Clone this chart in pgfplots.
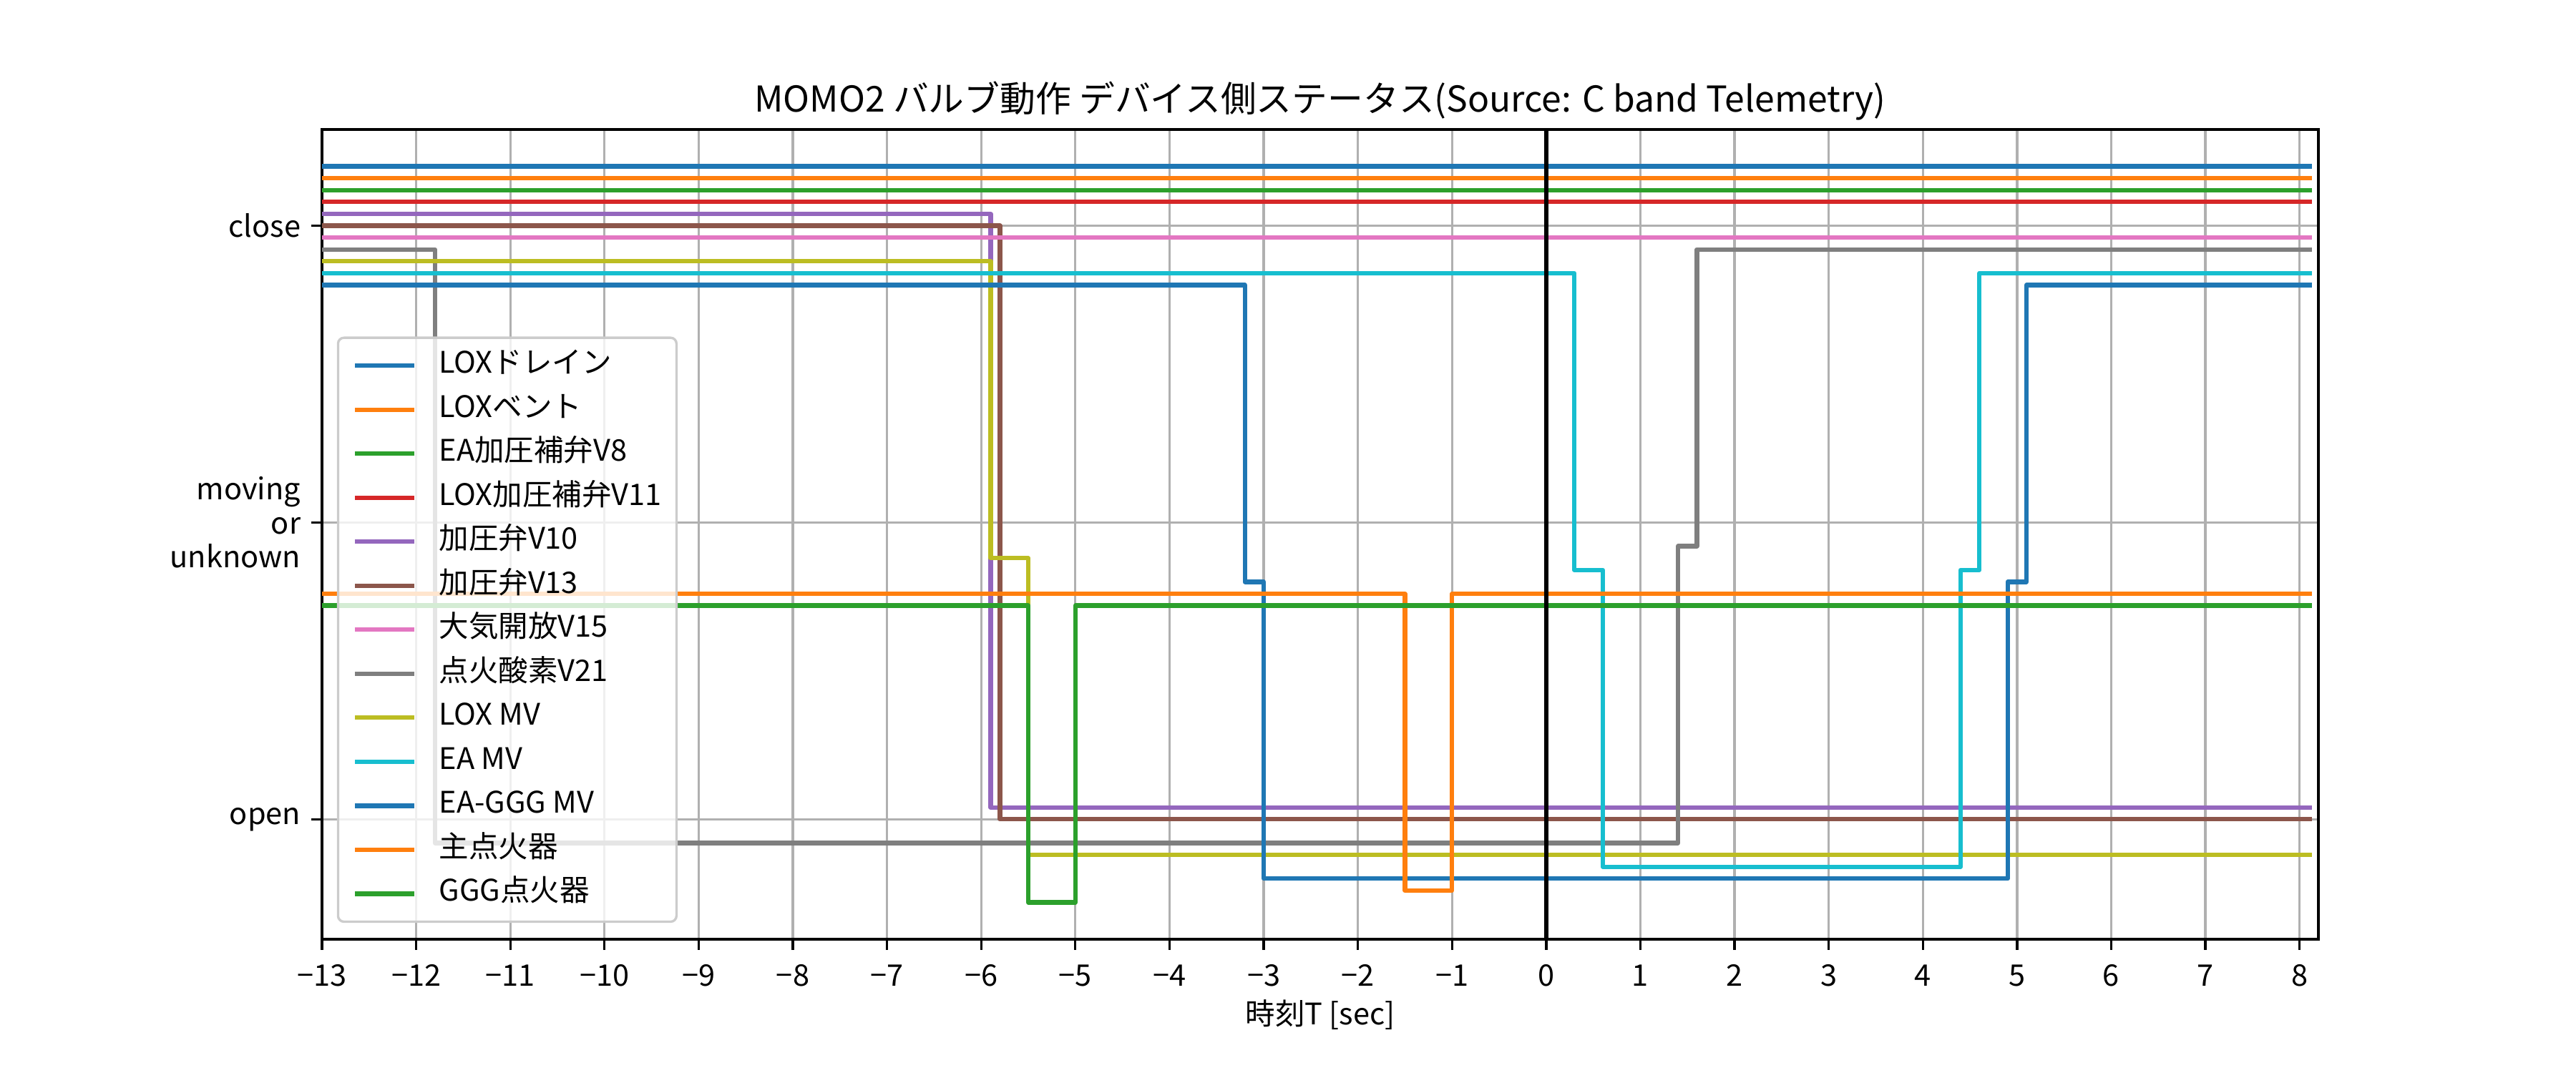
\documentclass[border=0pt]{standalone}
\usepackage{fontspec}
\setmainfont{Noto Sans CJK JP}
\usepackage{pgfplots}
\pgfplotsset{compat=1.18}
\definecolor{C0}{HTML}{1F77B4}
\definecolor{C1}{HTML}{FF7F0E}
\definecolor{C2}{HTML}{2CA02C}
\definecolor{C3}{HTML}{D62728}
\definecolor{C4}{HTML}{9467BD}
\definecolor{C5}{HTML}{8C564B}
\definecolor{C6}{HTML}{E377C2}
\definecolor{C7}{HTML}{7F7F7F}
\definecolor{C8}{HTML}{BCBD22}
\definecolor{C9}{HTML}{17BECF}
\definecolor{gridc}{HTML}{B0B0B0}
\definecolor{legc}{HTML}{CCCCCC}
\begin{document}
\begin{tikzpicture}
\begin{axis}[
  scale only axis, width=9.3in, height=3.7733in,
  xmin=-13, xmax=8.2, ymin=-0.404, ymax=2.324,
  xtick={-13,-12,-11,-10,-9,-8,-7,-6,-5,-4,-3,-2,-1,0,1,2,3,4,5,6,7,8},
  xticklabels={−13,−12,−11,−10,−9,−8,−7,−6,−5,−4,−3,−2,−1,0,1,2,3,4,5,6,7,8},
  ytick={0,1,2},
  yticklabels={open,{moving\\or\\unknown},close},
  xtick pos=bottom, ytick pos=left,
  tick align=outside, major tick length=3.5pt,
  tick style={black, line width=0.8pt},
  axis line style={line width=0.8pt},
  grid=major, major grid style={color=gridc, line width=0.8pt},
  xticklabel style={font=\fontsize{10}{12}\selectfont, anchor=base, yshift=-12.3pt},
  yticklabel style={font=\fontsize{10}{11.5}\selectfont, align=right, anchor=east, inner xsep=0pt, xshift=-3.5pt},
  every axis title/.style={at={(0.5,1)}, anchor=base, yshift=6pt, font=\fontsize{12}{14}\selectfont},
  title={MOMO2 バルブ動作 デバイス側ステータス(Source: C band Telemetry)},
  every axis x label/.style={at={(0.5,0)}, anchor=base, yshift=-28.9pt, font=\fontsize{10}{12}\selectfont},
  xlabel={時刻T [sec]},
  legend cell align=left,
  legend image code/.code={\draw[#1] (0pt,0pt) -- (20pt,0pt);},
  legend style={at={(0,0)}, anchor=south west, xshift=5pt, yshift=5.5pt,
    draw=legc, fill=white, fill opacity=0.8, draw opacity=1, text opacity=1,
    rounded corners=2pt, line width=0.8pt,
    font=\fontsize{10}{12}\selectfont,
    inner xsep=5pt, inner ysep=2pt, row sep=0pt, column sep=7.5pt,
    nodes={inner xsep=0pt, inner ysep=2.41pt, text height=7.5pt, text depth=2.5pt}},
  every axis plot/.append style={line width=1.5pt, const plot, line join=round},
]
\addplot[C0] coordinates {(-13,2.2) (8.13,2.2)};
\addlegendentry{LOXドレイン}
\addplot[C1] coordinates {(-13,2.16) (8.13,2.16)};
\addlegendentry{LOXベント}
\addplot[C2] coordinates {(-13,2.12) (8.13,2.12)};
\addlegendentry{EA加圧補弁V8}
\addplot[C3] coordinates {(-13,2.08) (8.13,2.08)};
\addlegendentry{LOX加圧補弁V11}
\addplot[C4] coordinates {(-13,2.04) (-5.9,0.04) (8.13,0.04)};
\addlegendentry{加圧弁V10}
\addplot[C5] coordinates {(-13,2.0) (-5.8,0.0) (8.13,0.0)};
\addlegendentry{加圧弁V13}
\addplot[C6] coordinates {(-13,1.96) (8.13,1.96)};
\addlegendentry{大気開放V15}
\addplot[C7] coordinates {(-13,1.92) (-11.8,-0.08) (1.4,0.92) (1.6,1.92) (8.13,1.92)};
\addlegendentry{点火酸素V21}
\addplot[C8] coordinates {(-13,1.88) (-5.9,0.88) (-5.5,-0.12) (8.13,-0.12)};
\addlegendentry{LOX MV}
\addplot[C9] coordinates {(-13,1.84) (0.3,0.84) (0.6,-0.16) (4.4,0.84) (4.6,1.84) (8.13,1.84)};
\addlegendentry{EA MV}
\addplot[C0] coordinates {(-13,1.8) (-3.2,0.8) (-3.0,-0.2) (4.9,0.8) (5.1,1.8) (8.13,1.8)};
\addlegendentry{EA-GGG MV}
\addplot[C1] coordinates {(-13,0.76) (-1.5,-0.24) (-1.0,0.76) (8.13,0.76)};
\addlegendentry{主点火器}
\addplot[C2] coordinates {(-13,0.72) (-5.5,-0.28) (-5.0,0.72) (8.13,0.72)};
\addlegendentry{GGG点火器}
\addplot[black, line width=1.5pt, sharp plot, forget plot] coordinates {(0,-0.404) (0,2.324)};
\end{axis}
\path (current axis.south west) ++(-1.5in,-0.6233in) rectangle ++(12in,5in);
\end{tikzpicture}
\end{document}
